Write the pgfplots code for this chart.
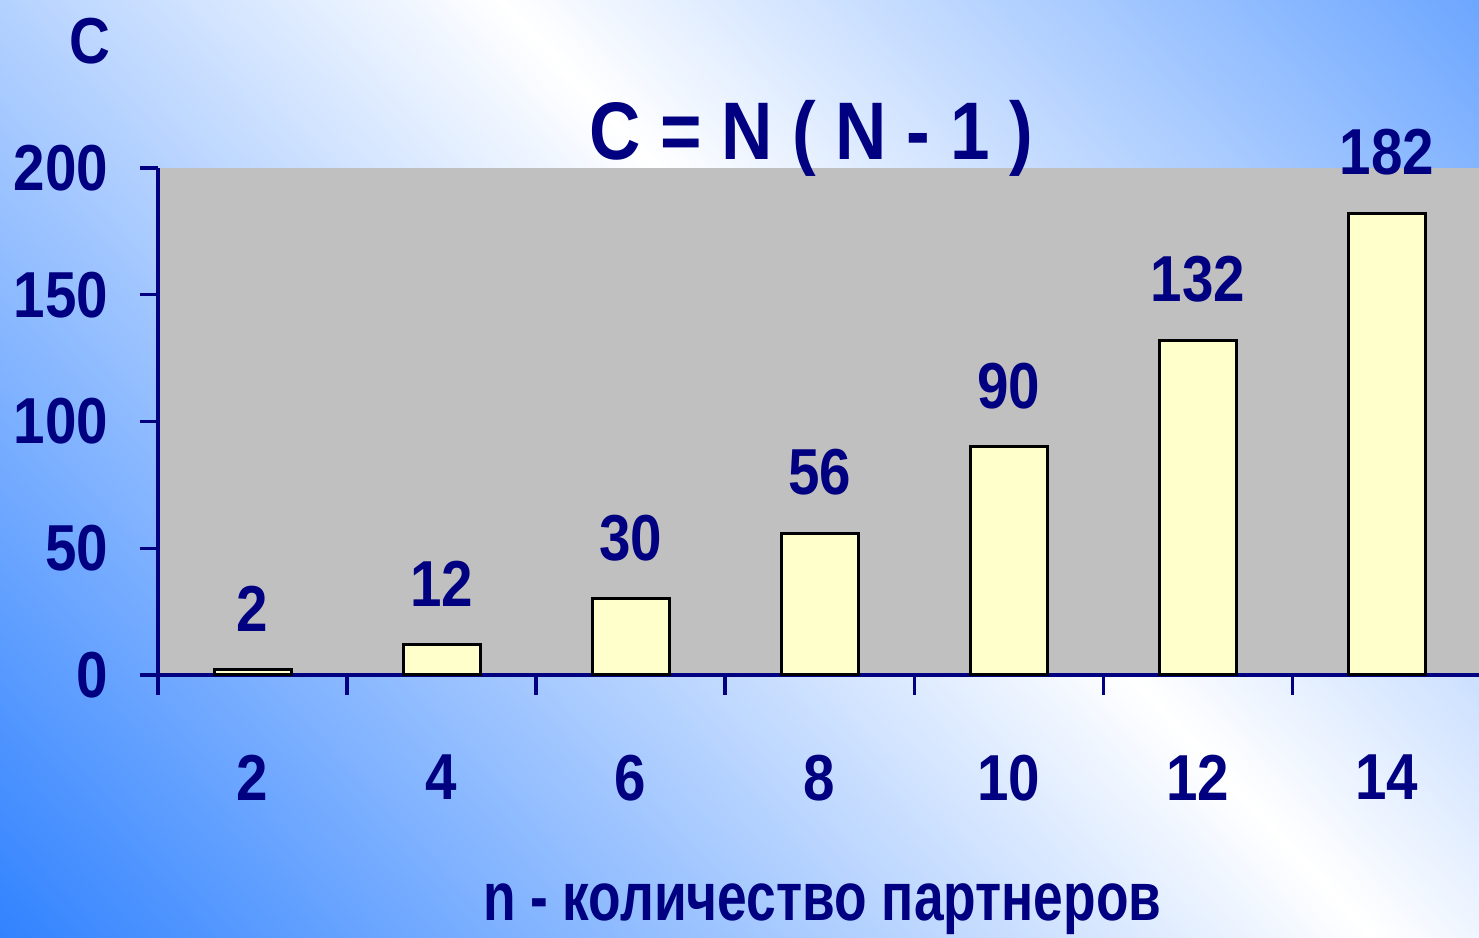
\documentclass[border=0pt]{standalone}
\usepackage{fontspec}
\setmainfont{Liberation Sans}
\newfontfamily\lab{Liberation Sans}[FakeStretch=0.87]
\newfontfamily\labx{Liberation Sans}[FakeStretch=0.78]
\usepackage{pgfplots}
\pgfplotsset{compat=1.18}
\definecolor{navy}{RGB}{0,0,128}
\definecolor{bgblue}{RGB}{40,125,255}
\definecolor{plotgray}{RGB}{192,192,192}
\definecolor{barfill}{RGB}{255,255,204}
\newcommand{\tickfont}{\lab\bfseries\fontsize{19.5}{22}\selectfont}
\begin{document}
\begin{tikzpicture}[x=0.3pt,y=0.3pt]
\path[use as bounding box] (0,0) rectangle (1479,938);
\begin{scope}
\clip (0,0) rectangle (1479,938);
\begin{scope}[transform canvas={shift={(279.6pt,142.5pt)}, rotate=-47}]
\shade[bottom color=bgblue, top color=bgblue, middle color=white] (-315pt,-315pt) rectangle (315pt,315pt);
\end{scope}
\end{scope}
\begin{axis}[
  at={(47.4pt,78.9pt)}, anchor=south west,
  scale only axis, width=397pt, height=152.1pt,
  xmin=0.5, xmax=7.5, ymin=0, ymax=200,
  axis x line*=bottom, axis y line*=left,
  axis line style={navy, line width=1pt, -},
  axis background/.style={fill=plotgray},
  clip=false,
  /pgf/number format/assume math mode=true,
  tick align=outside,
  major tick length=5.4pt, minor tick length=6pt,
  tick style={navy, line width=1pt},
  ytick={0,50,100,150,200},
  yticklabels={0,50,100,150,200},
  yticklabel style={font=\tickfont, text=navy, anchor=east, inner sep=0pt, xshift=-9.3pt},
  xtick={1,...,7},
  xticklabels={2,4,6,8,10,12,14},
  major x tick style={draw=none},
  minor xtick={0.5,1.5,...,6.5},
  xticklabel style={font=\tickfont, text=navy, anchor=north, inner sep=0pt, yshift=-18.3pt},
  ybar, bar width=23.1pt,
  nodes near coords,
  nodes near coords style={font=\tickfont, text=navy, anchor=south, inner sep=0pt, yshift=11pt},
  title={C = N ( N - 1 )},
  title style={at={(axis description cs:0.4936,0.9764)}, anchor=base, inner sep=0pt, font=\lab\bfseries\fontsize{24.5}{26}\selectfont, text=navy},
  ylabel={C},
  ylabel style={rotate=-90, at={(axis description cs:-0.0515,1.207)}, anchor=base, inner sep=0pt, font=\tickfont, text=navy},
  xlabel={n - количество партнеров},
  xlabel style={at={(axis description cs:0.5019,-0.485)}, anchor=base, inner sep=0pt, font=\labx\bfseries\fontsize{20.5}{22}\selectfont, text=navy},
]
\addplot[fill=barfill, draw=black, line width=0.9pt] coordinates {(1,2) (2,12) (3,30) (4,56) (5,90) (6,132) (7,182)};
\end{axis}
\end{tikzpicture}
\end{document}
